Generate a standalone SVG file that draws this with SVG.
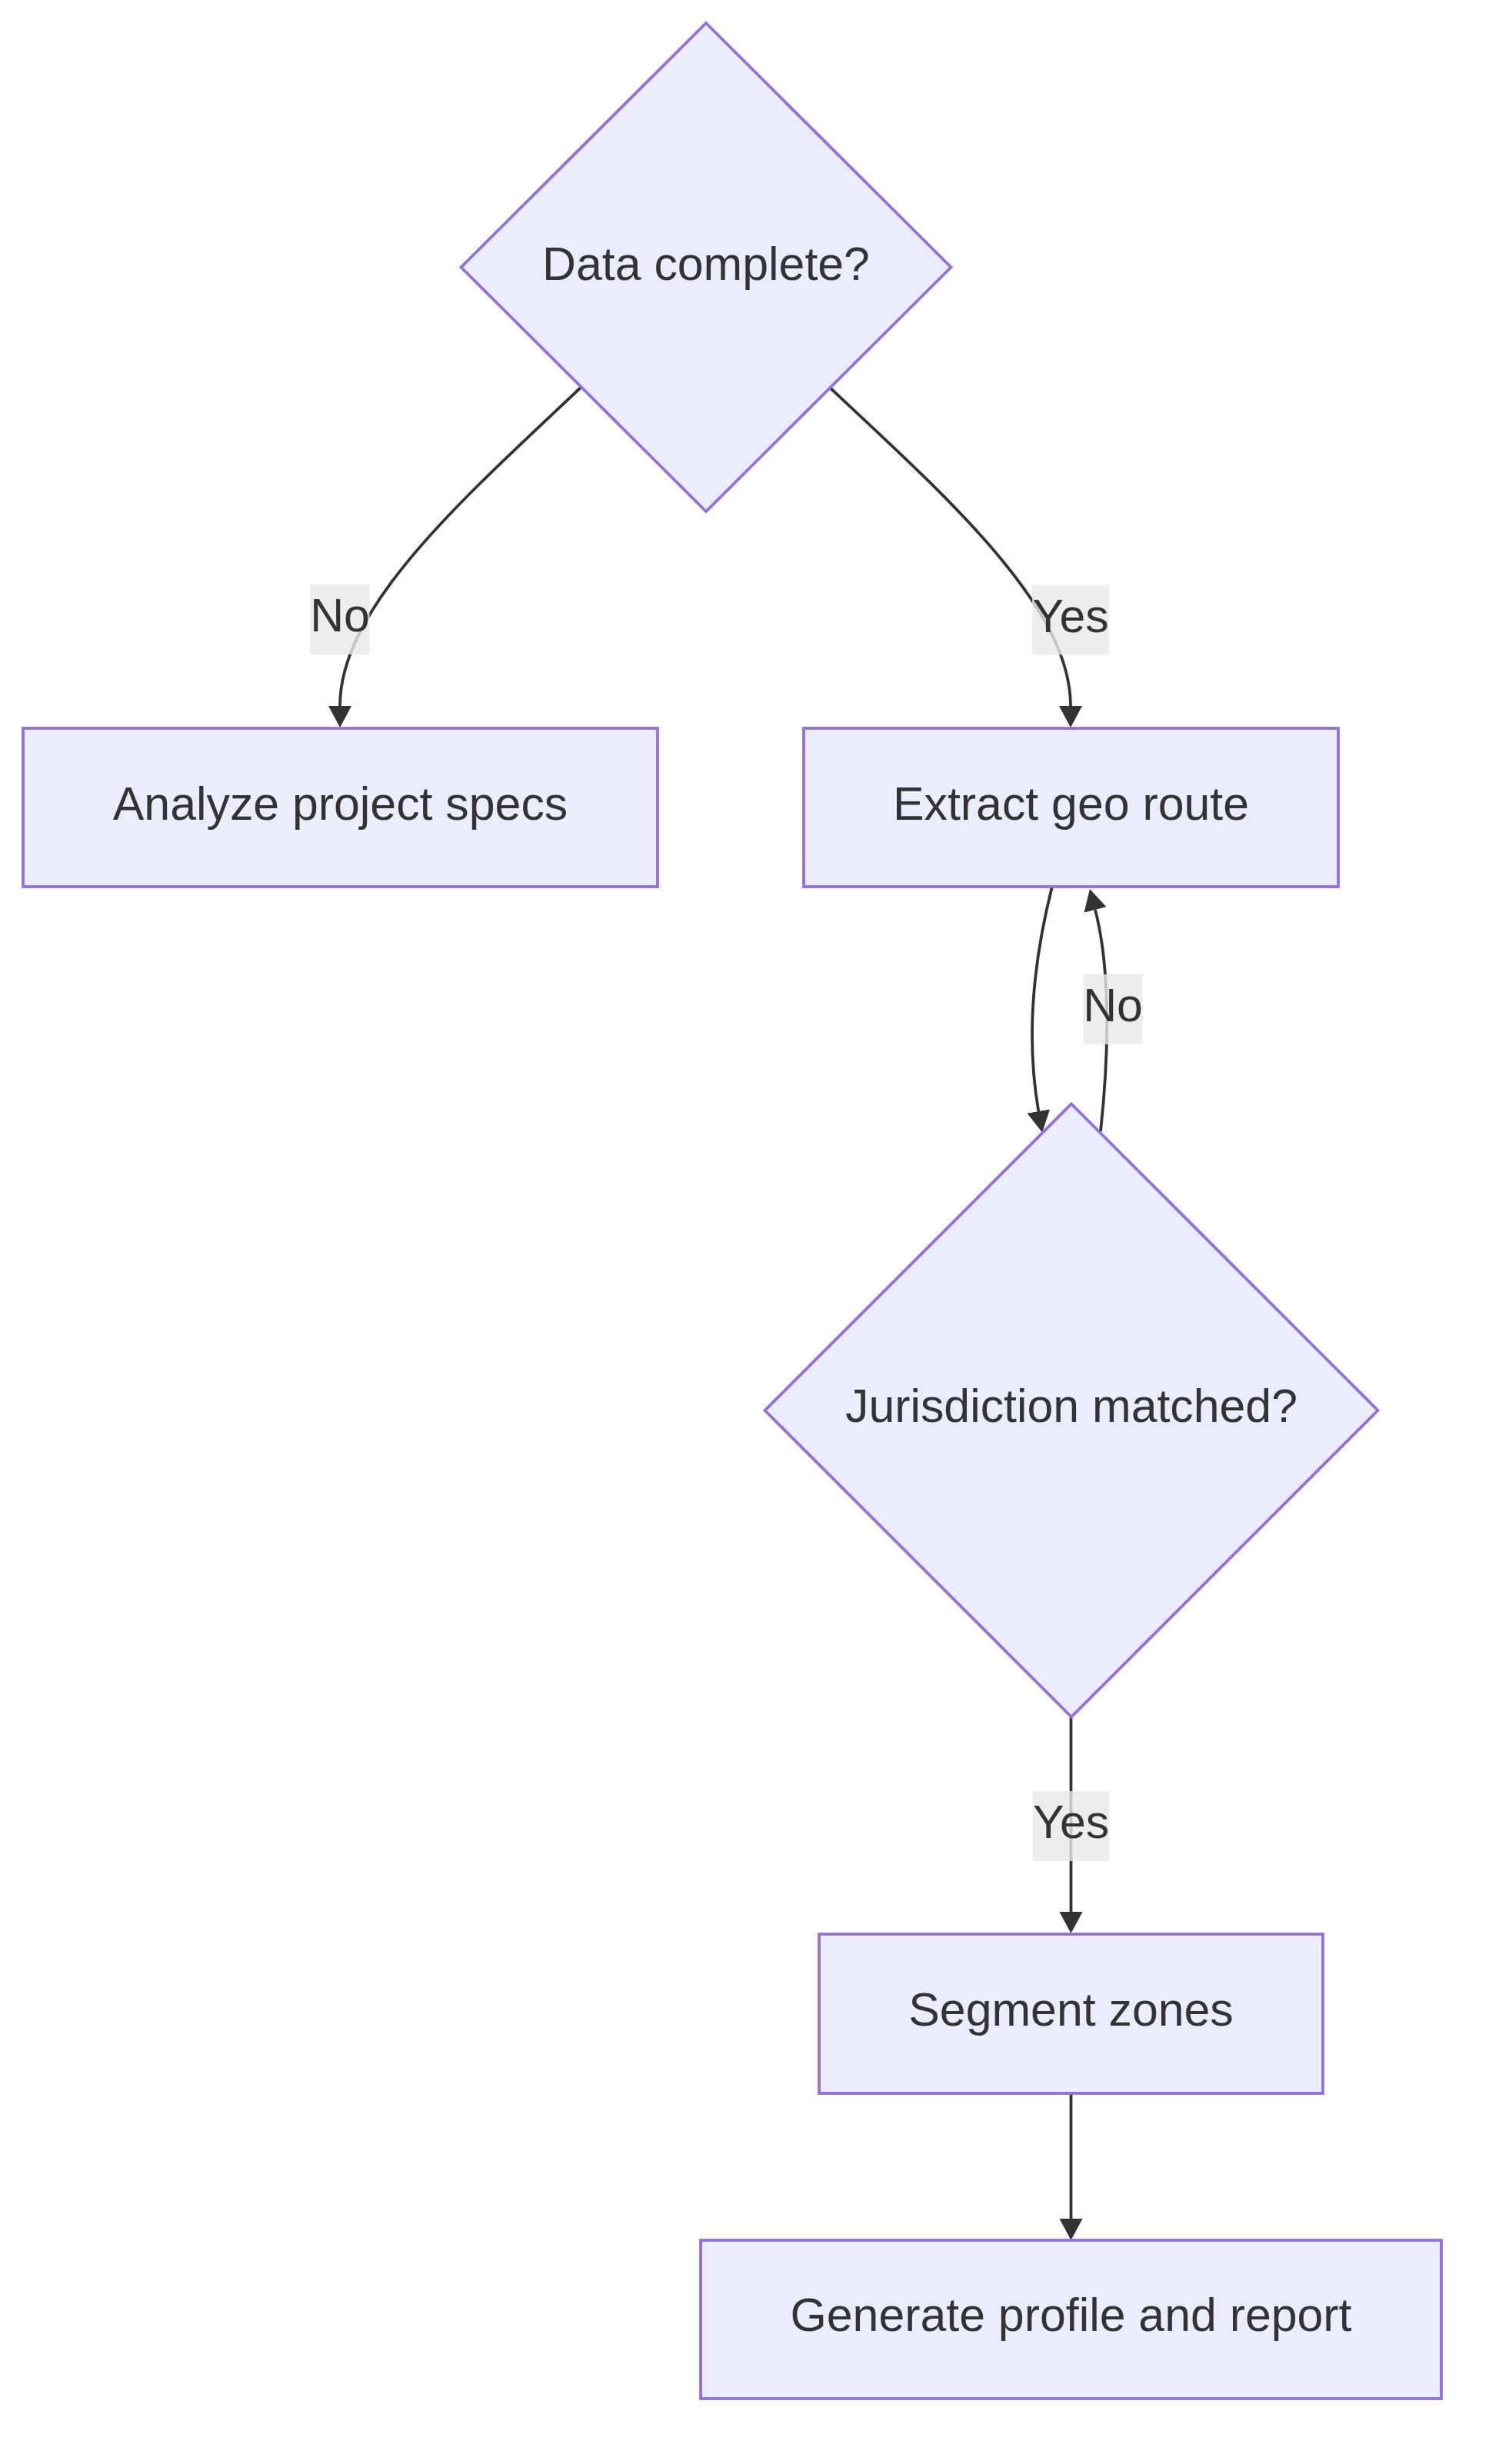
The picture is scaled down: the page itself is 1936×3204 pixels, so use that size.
<svg xmlns="http://www.w3.org/2000/svg" width="1936" height="3204" viewBox="0 0 1936 3204">
<style>
.node rect,.node polygon{fill:#ECECFF;stroke:#9370DB;stroke-width:3.8}
.node text,.lbl text{font-family:"Liberation Sans",Arial,sans-serif;font-size:60.8px;fill:#333333;text-anchor:middle}
.edge{fill:none;stroke:#333333;stroke-width:3.8}
.lbl rect{fill:rgba(232,232,232,0.8)}
</style>
<defs>
<marker id="arr" markerUnits="userSpaceOnUse" viewBox="0 0 28 30" refX="0" refY="15" markerWidth="28" markerHeight="30" orient="auto">
<path d="M0,0 L28,15 L0,30 z" fill="#333333"/>
</marker>
</defs>
<rect x="0" y="0" width="1936" height="3204" fill="#ffffff"/>
<g id="connectors">
<path class="edge" d="M755,504 C600,650 442,790 442,918" marker-end="url(#arr)"/>
<path class="edge" d="M1080,505 C1235,650 1392,790 1392,918" marker-end="url(#arr)"/>
<path class="edge" d="M1367.7,1154 C1346,1240 1332,1340 1350.3,1445" marker-end="url(#arr)"/>
<path class="edge" d="M1431,1471 C1442,1370 1444,1260 1424,1183" marker-end="url(#arr)"/>
<path class="edge" d="M1392.5,2232 L1392.5,2486" marker-end="url(#arr)"/>
<path class="edge" d="M1392.5,2722 L1392.5,2885" marker-end="url(#arr)"/>
</g>
<g id="edge-labels">
<g class="lbl" id="label-no-1"><rect x="403.5" y="760" width="77" height="91"/><text x="442" y="821">No</text></g>
<g class="lbl" id="label-yes-1"><rect x="1342" y="760.5" width="100" height="91"/><text x="1392" y="822">Yes</text></g>
<g class="lbl" id="label-no-2"><rect x="1408.5" y="1267" width="77" height="91"/><text x="1447" y="1328">No</text></g>
<g class="lbl" id="label-yes-2"><rect x="1342.5" y="2329" width="100" height="91"/><text x="1392.5" y="2390">Yes</text></g>
</g>
<g class="node" id="node-data-complete">
<polygon points="918,30 1236.5,347.5 918,665 599.5,347.5"/>
<text x="918" y="363.5">Data complete?</text>
</g>
<g class="node" id="node-analyze">
<rect x="30" y="947" width="825" height="206"/>
<text x="442.5" y="1066">Analyze project specs</text>
</g>
<g class="node" id="node-extract">
<rect x="1045" y="947" width="695" height="206"/>
<text x="1392.5" y="1066">Extract geo route</text>
</g>
<g class="node" id="node-jurisdiction">
<polygon points="1393,1435.5 1791.5,1834 1393,2232.5 994.5,1834"/>
<text x="1393" y="1849">Jurisdiction matched?</text>
</g>
<g class="node" id="node-segment">
<rect x="1065" y="2515" width="655" height="207"/>
<text x="1392.5" y="2634">Segment zones</text>
</g>
<g class="node" id="node-generate">
<rect x="911" y="2913" width="963" height="206"/>
<text x="1392.5" y="3031">Generate profile and report</text>
</g>
</svg>
